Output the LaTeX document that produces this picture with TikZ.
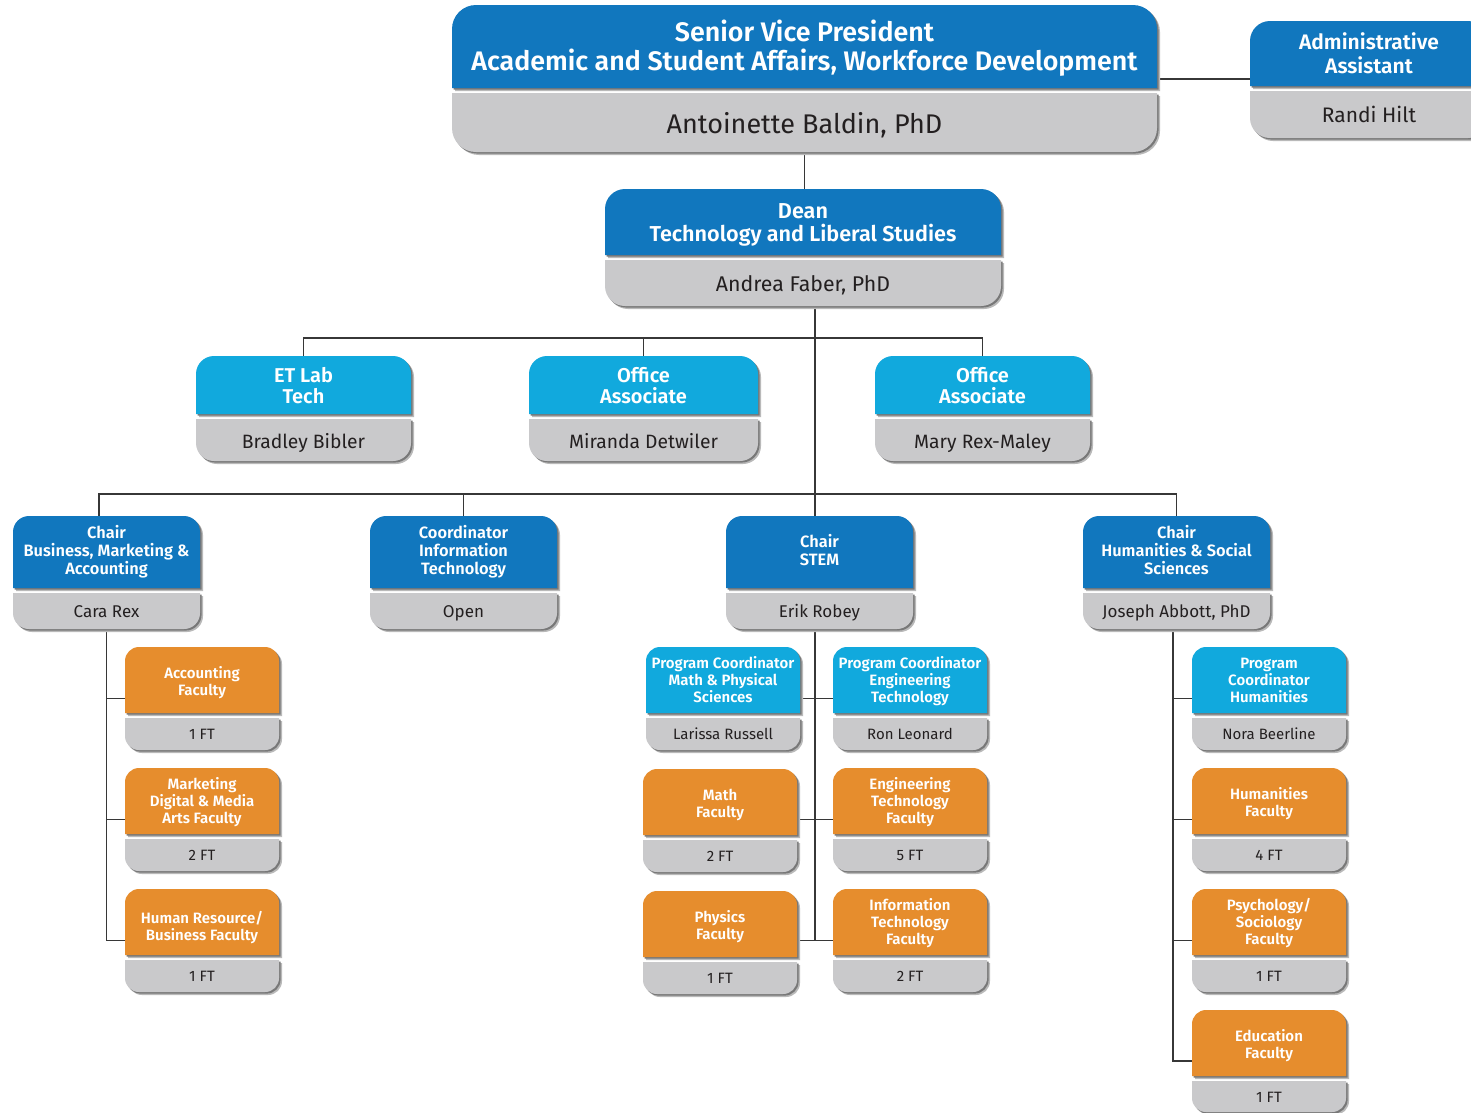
\documentclass[tikz,border=0pt]{standalone}
\usepackage{fontspec}
\setmainfont{Fira Sans}
\IfFontExistsTF{Fira Sans SemiBold}{\newfontfamily\tfontx{Fira Sans SemiBold}\newcommand\tfont{\tfontx}}{\newfontfamily\tfontx{Fira Sans}\newcommand\tfont{\tfontx\bfseries}}
\usetikzlibrary{calc}
\pgfdeclarelayer{bg}
\pgfsetlayers{bg,main}
\definecolor{dblue}{RGB}{17,119,190}
\definecolor{lblue}{RGB}{17,169,221}
\definecolor{orng}{RGB}{230,141,45}
\definecolor{gbox}{RGB}{201,201,203}
\definecolor{ntext}{RGB}{35,31,32}
\definecolor{lnc}{RGB}{55,55,55}
\definecolor{shc}{RGB}{120,120,120}
\definecolor{shl}{RGB}{185,185,185}
\tikzset{
  conn/.style={draw=lnc, line width=1.1pt},
  ttext/.style={text=white, align=center, inner sep=0pt},
  ptext/.style={text=ntext, align=center, inner sep=0pt},
}
\newcommand\rad{14}
\newcommand\tf{}
\newcommand\nf{}
\newcommand\tsh{2}
\newcommand\nsh{2}
% #1 colour #2 x1 #3 x2 #4 ytop #5 ysplit #6 gray top #7 ybot #8 shift
\newcommand\boxfill[8]{%
  \fill[#1, shift={(#8,#8)}] (#2,#5) -- (#2,#4+\rad) arc[start angle=180,end angle=90,radius=\rad pt]
     -- (#3-\rad,#4) arc[start angle=90,end angle=0,radius=\rad pt] -- (#3,#5) -- cycle;
}
\newcommand\footfill[8]{%
  \fill[#1, shift={(#8,#8)}] (#2,#6) -- (#2,#7-\rad) arc[start angle=180,end angle=270,radius=\rad pt]
     -- (#3-\rad,#7) arc[start angle=270,end angle=360,radius=\rad pt] -- (#3,#6) -- cycle;
}
% #1 name #2 x1 #3 x2 #4 ytop #5 ysplit #6 ybot #7 colour #8 title #9 person
\newcommand\obox[9]{%
  \pgfmathsetmacro\bw{#3-#2}%
  \pgfmathsetmacro\bh{#6-#4}%
  \pgfmathsetmacro\gt{#5+5}%
  \boxfill{shl}{#2}{#3}{#4}{#5}{\gt}{#6}{3}%
  \footfill{shl}{#2}{#3}{#4}{#5}{\gt}{#6}{3}%
  \boxfill{shc}{#2}{#3}{#4}{#5}{\gt}{#6}{1.6}%
  \footfill{shc}{#2}{#3}{#4}{#5}{\gt}{#6}{1.6}%
  \boxfill{#7}{#2}{#3}{#4}{#5}{\gt}{#6}{0}%
  \footfill{gbox}{#2}{#3}{#4}{#5}{\gt}{#6}{0}%
  \node[ttext, font=\tf] (#1t) at ({(#2+#3)/2},{(#4+#5)/2+\tsh}) {\strut #8\strut};
  \node[ptext, font=\nf] (#1p) at ({(#2+#3)/2},{(\gt+#6)/2+\nsh}) {\strut #9\strut};
  \node[inner sep=0pt, minimum width=\bw pt, minimum height=\bh pt] (#1) at ({(#2+#3)/2},{(#4+#6)/2}) {};
}
\newcommand\setlevel[7]{% radius, title size, title skip, title shift, name size, name skip, name shift
  \renewcommand\rad{#1}%
  \renewcommand\tf{\tfont\fontsize{#2pt}{#3pt}\selectfont\lineskiplimit=-30pt\relax}%
  \renewcommand\tsh{#4}%
  \renewcommand\nf{\fontsize{#5pt}{#6pt}\selectfont}%
  \renewcommand\nsh{#7}%
}
\begin{document}
\begin{tikzpicture}[x=1pt,y=-1pt]
\useasboundingbox (0,0) rectangle (1471,1112);

% ---- top level
\setlevel{24}{26.8}{29}{3.5}{27}{30}{4.5}
\obox{svp}{452}{1157}{5}{88}{152}{dblue}{Senior Vice President\\Academic and Student Affairs, Workforce Development}{Antoinette Baldin, PhD}

\setlevel{20}{21}{24}{2.7}{21}{24}{3.5}
\obox{admin}{1250}{1488}{21}{86}{138}{dblue}{Administrative\\Assistant}{Randi Hilt}

\setlevel{20}{21.6}{23}{3.3}{21.3}{24}{3.6}
\obox{dean}{605}{1001}{189}{255}{306}{dblue}{Dean\\Technology and Liberal Studies}{Andrea Faber, PhD}

\setlevel{18}{20}{21}{3.3}{19.3}{22}{3.8}
\obox{etlab}{196}{411}{356}{414}{461}{lblue}{ET Lab\\Tech}{Bradley Bibler}
\obox{oa1}{529}{758}{356}{414}{461}{lblue}{Office\\Associate}{Miranda Detwiler}
\obox{oa2}{875}{1090}{356}{414}{461}{lblue}{Office\\Associate}{Mary Rex-Maley}

% ---- chairs
\setlevel{16}{16.4}{18}{0.8}{17}{19}{2.6}
\obox{chairB}{13}{200}{516}{588}{629}{dblue}{Chair\\Business, Marketing \&\\Accounting}{Cara Rex}
\obox{coordIT}{370}{557}{516}{588}{629}{dblue}{Coordinator\\Information\\Technology}{Open}
\obox{stem}{726}{913}{516}{588}{629}{dblue}{Chair\\STEM}{Erik Robey}
\obox{chairH}{1083}{1270}{516}{588}{629}{dblue}{Chair\\Humanities \& Social\\Sciences}{Joseph Abbott, PhD}

% ---- sub boxes (three-line titles)
\setlevel{14}{15}{17}{2}{15}{17}{2.3}
\obox{mkt}{125}{279}{768}{834}{871}{orng}{Marketing\\Digital \& Media\\Arts Faculty}{2 FT}
\obox{pcm}{646}{800}{647}{713}{750}{lblue}{Program Coordinator\\Math \& Physical\\Sciences}{Larissa Russell}
\obox{pce}{833}{987}{647}{713}{750}{lblue}{Program Coordinator\\Engineering\\Technology}{Ron Leonard}
\obox{engf}{833}{987}{768}{834}{871}{orng}{Engineering\\Technology\\Faculty}{5 FT}
\obox{itf}{833}{987}{889}{955}{992}{orng}{Information\\Technology\\Faculty}{2 FT}
\obox{pch}{1192}{1346}{647}{713}{750}{lblue}{Program\\Coordinator\\Humanities}{Nora Beerline}
\obox{psyf}{1192}{1346}{889}{955}{992}{orng}{Psychology/\\Sociology\\Faculty}{1 FT}

% ---- sub boxes (two-line titles)
\renewcommand\tsh{3.8}
\obox{acc}{125}{279}{647}{713}{750}{orng}{Accounting\\Faculty}{1 FT}
\obox{mathf}{643}{797}{769}{835}{872}{orng}{Math\\Faculty}{2 FT}
\obox{physf}{643}{797}{891}{957}{994}{orng}{Physics\\Faculty}{1 FT}
\obox{humf}{1192}{1346}{768}{834}{871}{orng}{Humanities\\Faculty}{4 FT}
\obox{eduf}{1192}{1346}{1010}{1076}{1112}{orng}{Education\\Faculty}{1 FT}
\renewcommand\tsh{6.5}
\obox{hr}{125}{279}{889}{955}{992}{orng}{Human Resource/\\Business Faculty}{1 FT}

% ---- connectors
\begin{pgfonlayer}{bg}
\fill[white] (0,0) rectangle (1471,1112);
\coordinate (tr) at (815,0);
\coordinate (b1) at (0,338);
\coordinate (b2) at (0,494);
\coordinate (bl) at (99,0);
\coordinate (hv) at (1173,0);
\coordinate (adm) at (0,79);
\draw[conn] (svp.south) -- (svp.south |- dean.north);
\draw[conn] (svp.east |- adm) -- (admin.west |- adm);
\draw[conn] (dean.south -| tr) -- (stem.north -| tr);
\draw[conn] (etlab.north) -- (etlab.north |- b1) -| (oa2.north);
\draw[conn] (oa1.north) -- (oa1.north |- b1);
\draw[conn] (chairB.north -| bl) -- (bl |- b2) -| (chairH.north);
\draw[conn] (coordIT.north) -- (coordIT.north |- b2);
\draw[conn] (chairB.south) |- (hr.west);
\draw[conn] (chairB.south |- acc.west) -- (acc.west);
\draw[conn] (chairB.south |- mkt.west) -- (mkt.west);
\draw[conn] (stem.south -| tr) -- (tr |- itf.west);
\draw[conn] (pcm.east) -- (pce.west);
\draw[conn] (engf.west -| mathf.east) -- (engf.west);
\draw[conn] (itf.west -| physf.east) -- (itf.west);
\draw[conn] (chairH.south -| hv) |- (eduf.west);
\draw[conn] (hv |- pch.west) -- (pch.west);
\draw[conn] (hv |- humf.west) -- (humf.west);
\draw[conn] (hv |- psyf.west) -- (psyf.west);
\end{pgfonlayer}
\end{tikzpicture}
\end{document}
